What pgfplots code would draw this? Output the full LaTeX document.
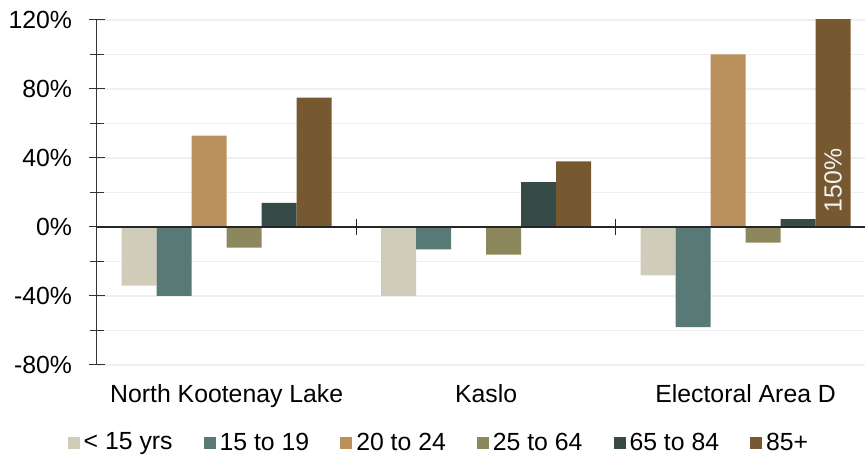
\documentclass[border=0pt]{standalone}
\usepackage{fontspec}
\setmainfont{Liberation Sans}
\usepackage{pgfplots}
\pgfplotsset{compat=1.18}
\definecolor{cA}{HTML}{CFCDB9}
\definecolor{cB}{HTML}{587976}
\definecolor{cC}{HTML}{BA915C}
\definecolor{cD}{HTML}{8C875D}
\definecolor{cE}{HTML}{364A47}
\definecolor{cF}{HTML}{775931}
\definecolor{gridc}{HTML}{EFEFEF}
\newcommand\f{\fontsize{12.4}{14.8}\selectfont}
\pgfplotsset{sq/.style={legend image code/.code={\fill[##1] (0pt,-3pt) rectangle (6pt,3pt);}}}
\begin{document}
\begin{tikzpicture}
\begin{axis}[
  scale only axis, width=384pt, height=172.5pt,
  xmin=-0.5, xmax=2.46, ymin=-80, ymax=120,
  ybar=0pt, bar width=17.5pt,
  axis y line=left, axis x line=bottom,
  x axis line style={draw=none},
  y axis line style={-, draw=black!80, line width=0.5pt},
  xtick={0,1,2},
  xticklabels={North Kootenay Lake, Kaslo, Electoral Area D},
  x tick style={draw=none},
  xticklabel style={font=\f, anchor=base, yshift=-15pt},
  ytick={-80,-40,0,40,80,120},
  yticklabels={-80\%,-40\%,0\%,40\%,80\%,120\%},
  minor ytick={-60,-20,20,60,100},
  y tick style={draw=black!80, line width=0.5pt},
  tick align=center, major tick length=8pt, minor tick length=7pt,
  yticklabel style={font=\f, xshift=-5pt},
  ymajorgrids, yminorgrids,
  major grid style={gridc, line width=0.7pt},
  minor grid style={gridc, line width=0.7pt},
  legend columns=6,
  legend style={draw=none, at={(0.4466,-0.226)}, anchor=center, font=\f,
    /tikz/every even column/.append style={column sep=13.5pt}},
]
\addplot[fill=cA, draw=none, sq] coordinates {(0,-34) (1,-40) (2,-28)};
\addplot[fill=cB, draw=none, sq] coordinates {(0,-40) (1,-13) (2,-58)};
\addplot[fill=cC, draw=none, sq] coordinates {(0,53) (1,0) (2,100)};
\addplot[fill=cD, draw=none, sq] coordinates {(0,-12) (1,-16) (2,-9)};
\addplot[fill=cE, draw=none, sq] coordinates {(0,14) (1,26) (2,4.5)};
\addplot[fill=cF, draw=none, sq] coordinates {(0,75) (1,38) (2,150)};
\legend{< 15 yrs, 15 to 19, 20 to 24, 25 to 64, 65 to 84, 85+}
\draw[black!85, line width=0.6pt] (axis cs:-0.5,0) -- (axis cs:2.46,0);
\draw[black!85, line width=0.5pt] (axis cs:0.5,0) ++(0pt,-4pt) -- ++(0pt,8pt);
\draw[black!85, line width=0.5pt] (axis cs:1.5,0) ++(0pt,-4pt) -- ++(0pt,8pt);
\node[rotate=90, text=white!95!black, font=\f] at (axis cs:2.337,27) {150\%};
\end{axis}
\pgfresetboundingbox
\path[use as bounding box] ([xshift=-48.5pt,yshift=-47pt]current axis.south west) rectangle ([yshift=10pt]current axis.north east);
\end{tikzpicture}
\end{document}
